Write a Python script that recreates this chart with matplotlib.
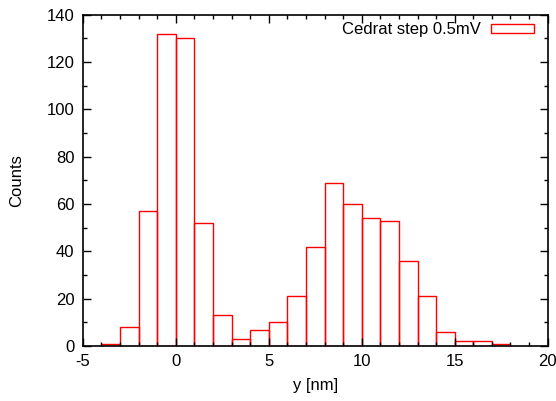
import matplotlib
matplotlib.use("Agg")
import matplotlib.pyplot as plt
from matplotlib.ticker import MultipleLocator

plt.rcParams["font.family"] = ["Liberation Sans", "DejaVu Sans"]
plt.rcParams["axes.unicode_minus"] = False

bin_left = [-4, -3, -2, -1, 0, 1, 2, 3, 4, 5, 6, 7, 8, 9, 10, 11, 12, 13, 14, 15, 16, 17]
counts = [1, 8, 57, 132, 130, 52, 13, 3, 7, 10, 21, 42, 69, 60, 54, 53, 36, 21, 6, 2, 2, 1]

fig = plt.figure(figsize=(5.56, 4.01), dpi=100)
ax = fig.add_axes([0.149, 0.137, 0.836, 0.826])

ax.bar(bin_left, counts, width=1, align="edge", fill=False,
       edgecolor="red", linewidth=1.0, label="Cedrat step 0.5mV")

ax.set_xlim(-5, 20)
ax.set_ylim(0, 140)
ax.xaxis.set_major_locator(MultipleLocator(5))
ax.xaxis.set_minor_locator(MultipleLocator(1))
ax.yaxis.set_major_locator(MultipleLocator(20))
ax.yaxis.set_minor_locator(MultipleLocator(10))
ax.tick_params(which="both", direction="in", top=True, right=True, labelsize=12)
ax.tick_params(which="major", length=6, width=1, pad=6)
ax.tick_params(which="minor", length=3, width=1)
for s in ax.spines.values():
    s.set_linewidth(1.2)

ax.set_xlabel("y [nm]", fontsize=12, labelpad=6)
ax.set_ylabel("Counts", fontsize=12, labelpad=16)

leg = ax.legend(loc="upper right", frameon=False, fontsize=12,
                markerfirst=False, handlelength=2.6, handleheight=0.45,
                bbox_to_anchor=(0.985, 0.998), borderaxespad=0.0,
                handletextpad=0.6)

fig.savefig("out.png", dpi=100)
